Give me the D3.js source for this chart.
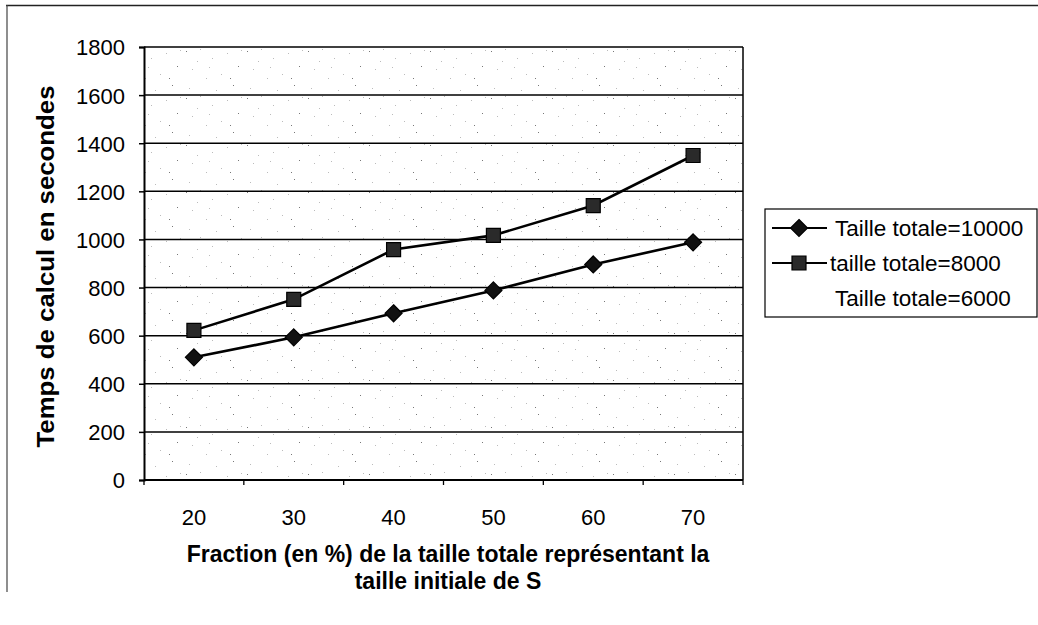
<!DOCTYPE html>
<html>
<head>
<meta charset="utf-8">
<script src="https://cdn.jsdelivr.net/npm/d3@7"></script>
<style>
  html, body { margin: 0; padding: 0; background: #fff; }
  svg { display: block; font-family: Arial, "Liberation Sans", sans-serif; }
</style>
</head>
<body>
<svg id="chart" width="1038" height="625"></svg>
<script>
// Fractions (%) of the total size used as the initial size of S
const categories = ["20", "30", "40", "50", "60", "70"];
// Computation time in seconds for each total size
const seriesNames = ["Taille totale=10000", "taille totale=8000", "Taille totale=6000"];
const total10000 = [510, 593, 693, 788, 896, 988];
const total8000 = [622, 751, 958, 1017, 1141, 1349];
const total6000 = []; // listed in the legend, no values plotted
const yTicks = [0, 200, 400, 600, 800, 1000, 1200, 1400, 1600, 1800];

const svg = d3.select("#chart");
const plot = { left: 144, right: 743, top: 47, bottom: 480 };
const FONT = "Arial, 'Liberation Sans', sans-serif";

// Outer chart frame (top and left edges visible)
svg.append("line").attr("x1", 6).attr("x2", 1038).attr("y1", 5.5).attr("y2", 5.5)
  .attr("stroke", "#222").attr("stroke-width", 1.3);
svg.append("line").attr("x1", 7).attr("x2", 7).attr("y1", 5).attr("y2", 592)
  .attr("stroke", "#444").attr("stroke-width", 1.2);

// Light speckled texture of the plot area
const defs = svg.append("defs");
const pat = defs.append("pattern").attr("id", "speckle")
  .attr("patternUnits", "userSpaceOnUse").attr("width", 61).attr("height", 47);
const dots = [[3,4],[17,2],[29,11],[44,6],[55,19],[9,22],[23,31],[38,27],[50,38],[6,41],[33,43],[14,14],[47,31],[58,3],[26,20]];
dots.forEach(([x, y], i) => {
  pat.append("rect").attr("x", x).attr("y", y).attr("width", 1).attr("height", 1)
    .attr("fill", i % 4 === 0 ? "#777" : "#bbb");
});
svg.append("rect").attr("x", plot.left).attr("y", plot.top)
  .attr("width", plot.right - plot.left).attr("height", plot.bottom - plot.top)
  .attr("fill", "url(#speckle)");

const x = d3.scaleBand().domain(categories).range([plot.left, plot.right]);
const y = d3.scaleLinear().domain([0, 1800]).range([plot.bottom, plot.top]);

// Horizontal gridlines
svg.append("g").selectAll("line").data(yTicks.slice(1)).join("line")
  .attr("x1", plot.left).attr("x2", plot.right)
  .attr("y1", d => y(d)).attr("y2", d => y(d))
  .attr("stroke", "#000").attr("stroke-width", 1.5);

// Right edge of plot area
svg.append("line").attr("x1", plot.right).attr("x2", plot.right)
  .attr("y1", plot.top).attr("y2", plot.bottom)
  .attr("stroke", "#000").attr("stroke-width", 1.5);

// Y axis
const yAxis = svg.append("g").attr("transform", `translate(${plot.left},0)`)
  .call(d3.axisLeft(y).tickValues(yTicks).tickSize(5).tickPadding(14).tickFormat(d3.format("d")));
yAxis.select(".domain").attr("stroke", "#000").attr("stroke-width", 2);
yAxis.selectAll(".tick line").attr("stroke", "#000").attr("stroke-width", 1.5);
yAxis.selectAll("text").attr("font-size", 22).attr("fill", "#000")
  .attr("font-family", FONT).attr("dy", "0.36em");

// X axis with ticks at category boundaries
const xAxisG = svg.append("g").attr("transform", `translate(0,${plot.bottom})`);
xAxisG.append("line").attr("x1", plot.left).attr("x2", plot.right)
  .attr("stroke", "#000").attr("stroke-width", 2);
const boundaries = categories.map(c => x(c)).concat([x(categories[categories.length - 1]) + x.bandwidth()]);
xAxisG.selectAll("line.tk").data(boundaries).join("line").attr("class", "tk")
  .attr("x1", d => d).attr("x2", d => d).attr("y1", 0).attr("y2", 5)
  .attr("stroke", "#000").attr("stroke-width", 1.3);
xAxisG.selectAll("text").data(categories).join("text")
  .attr("x", d => x(d) + x.bandwidth() / 2).attr("y", 45)
  .attr("text-anchor", "middle").attr("font-size", 22).attr("fill", "#000")
  .text(d => d);

// Axis titles
svg.append("text")
  .attr("transform", `translate(54,${(plot.top + plot.bottom) / 2 + 3}) rotate(-90)`)
  .attr("text-anchor", "middle").attr("font-size", 23).attr("font-weight", "bold")
  .attr("textLength", 362).attr("lengthAdjust", "spacingAndGlyphs")
  .text("Temps de calcul en secondes");
const xTitle = svg.append("text").attr("text-anchor", "middle")
  .attr("font-size", 23).attr("font-weight", "bold");
xTitle.append("tspan").attr("x", 448).attr("y", 562)
  .text("Fraction (en %) de la taille totale représentant la");
xTitle.append("tspan").attr("x", 448).attr("y", 589)
  .text("taille initiale de S");

// Series lines and markers
const cx = c => x(c) + x.bandwidth() / 2;
const line = d3.line().x((d, i) => cx(categories[i])).y(d => y(d));
// diamond marker: square turned 45 degrees, half-diagonal r
const diamond = r => `M0,${-r}L${r},0L0,${r}L${-r},0Z`;
const square = s => `M${-s},${-s}H${s}V${s}H${-s}Z`;

function drawSeries(values, shape, fill) {
  const g = svg.append("g");
  g.append("path").datum(values).attr("d", line)
    .attr("fill", "none").attr("stroke", "#000").attr("stroke-width", 2.6);
  g.selectAll("path.m").data(values).join("path").attr("class", "m")
    .attr("transform", (d, i) => `translate(${cx(categories[i])},${y(d)})`)
    .attr("d", shape).attr("fill", fill).attr("stroke", "#000").attr("stroke-width", 1.2);
}
drawSeries(total8000, square(7), "#2a2a2a");
drawSeries(total10000, diamond(8.5), "#111");

// Legend
const lg = svg.append("g");
lg.append("rect").attr("x", 765).attr("y", 209).attr("width", 272).attr("height", 108)
  .attr("fill", "#fff").attr("stroke", "#000").attr("stroke-width", 1.2);
const rowsY = [228, 263, 298];
const legendShapes = [diamond(8.5), square(7), null];
const legendFills = ["#111", "#2a2a2a", null];
seriesNames.forEach((name, i) => {
  const yy = rowsY[i];
  if (legendShapes[i]) {
    lg.append("line").attr("x1", 772).attr("x2", 827).attr("y1", yy).attr("y2", yy)
      .attr("stroke", "#000").attr("stroke-width", 2);
    lg.append("path").attr("transform", `translate(799,${yy})`)
      .attr("d", legendShapes[i]).attr("fill", legendFills[i])
      .attr("stroke", "#000").attr("stroke-width", 1.2);
  }
  lg.append("text").attr("x", i === 1 ? 830 : 835).attr("y", yy + 8)
    .attr("font-size", 22.5).attr("fill", "#000").text(name);
});
</script>
</body>
</html>
